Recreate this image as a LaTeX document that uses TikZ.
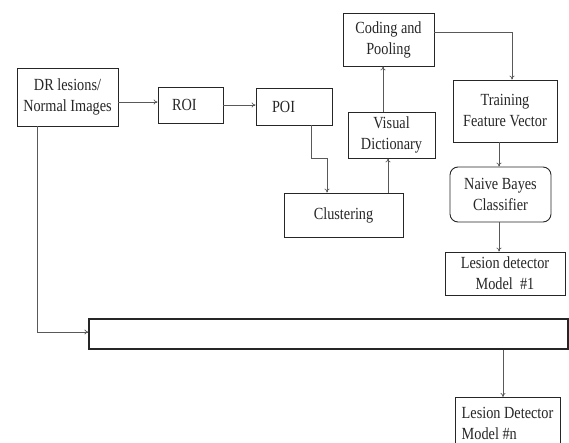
\documentclass[tikz,border=0pt]{standalone}
\usepackage{fontspec}
\setmainfont[FakeStretch=0.84]{Liberation Serif}
\usetikzlibrary{arrows.meta}
\begin{document}
\begin{tikzpicture}[x=1pt,y=-1pt,
  box/.style={draw=black!85,line width=0.9pt,inner sep=0pt,align=center,
    font=\fontsize{17}{21}\selectfont,text=black!85},
  arr/.style={draw=black!65,line width=0.7pt,-{To[length=4pt,width=5pt]}}]
\useasboundingbox (0,0) rectangle (569,443);
\clip (0,0) rectangle (569,443);
\node[box,minimum width=101,minimum height=58] (dr) at (67.5,97) {DR lesions/\\Normal Images};
\node[box,minimum width=65,minimum height=36,text width=37,inner xsep=14,align=left] (roi) at (190.5,105) {ROI};
\node[box,minimum width=76,minimum height=37,text width=44,inner xsep=16,align=left] (poi) at (294,106.5) {POI};
\node[box,minimum width=119,minimum height=44] (clus) at (343.5,215) {Clustering};
\node[box,minimum width=87,minimum height=46] (vis) at (391.5,135) {Visual\\Dictionary};
\node[box,minimum width=91,minimum height=53] (cod) at (388.5,39.5) {Coding and\\Pooling};
\node[box,minimum width=104,minimum height=62] (trn) at (505,111) {Training\\Feature Vector};
\node[box,minimum width=101,minimum height=55,rounded corners=8pt] (nb) at (500.5,194.5) {Naive Bayes\\Classifier};
\node[box,minimum width=120,minimum height=43] (l1) at (505,273.5) {Lesion detector\\Model~~\#1};
\node[box,line width=1.2pt,minimum width=479,minimum height=30] (long) at (328.5,334) {};
\node[box,minimum width=105,minimum height=52,align=left,anchor=north] (ln) at (507.5,397) {Lesion Detector\\Model \#n};
\draw[arr] (dr.east |- 0,102) -- (roi.west |- 0,102);
\draw[arr] (roi.east) -- (poi.west |- roi.east);
\draw[arr] (poi.south -| 311,0) -- (311,158) -- (327,158) -- (clus.north -| 327,0);
\draw[arr] (clus.north -| 388,0) -- (vis.south -| 388,0);
\draw[arr] (vis.north -| 383,0) -- (cod.south -| 383,0);
\draw[arr] (cod.east |- 0,32) -- (512,32) -- (trn.north -| 512,0);
\draw[arr] (trn.south -| 499,0) -- (nb.north -| 499,0);
\draw[arr] (nb.south -| 499,0) -- (l1.north -| 499,0);
\draw[arr] (dr.south -| 37,0) -- (37,332) -- (long.west |- 0,332);
\draw[arr] (long.south -| 503,0) -- (ln.north -| 503,0);
\end{tikzpicture}
\end{document}
